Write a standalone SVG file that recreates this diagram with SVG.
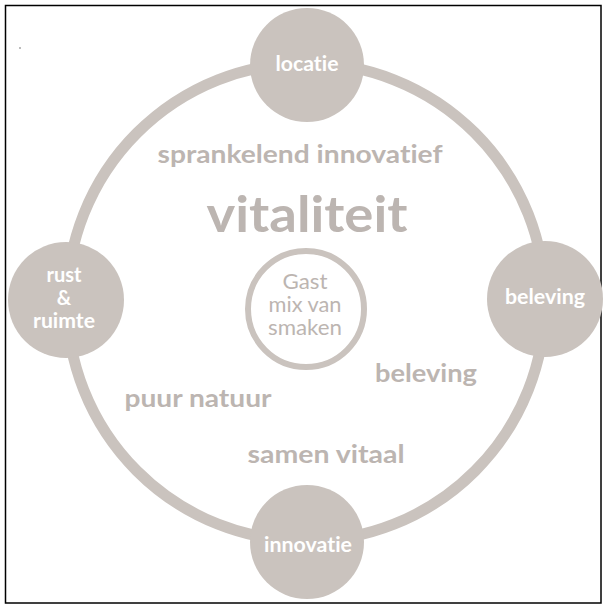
<svg xmlns="http://www.w3.org/2000/svg" width="604" height="607" viewBox="0 0 604 607">
<style>
text{font-variant-ligatures:none;font-feature-settings:"liga" 0,"dlig" 0}
.node{fill:#cac3be}
.nl{font-family:Lato,"Liberation Sans",sans-serif;font-weight:bold;fill:#ffffff;text-anchor:middle;font-size:20px}
.t{font-family:Lato,"Liberation Sans",sans-serif;font-weight:bold;fill:#bcb5b1;text-anchor:middle}
.g{font-family:Lato,"Liberation Sans",sans-serif;font-weight:normal;fill:#bcb5b1;text-anchor:middle;font-size:21px}
</style>
<rect x="0" y="0" width="604" height="607" fill="#ffffff"/>
<rect x="5.5" y="5.5" width="595.5" height="597.5" fill="none" stroke="#000000" stroke-width="1.5"/>
<circle cx="20" cy="48" r="0.8" fill="#666666"/>
<g id="connectors">
<circle cx="306" cy="302" r="239" fill="none" stroke="#cac3be" stroke-width="11"/>
</g>
<g id="node-gast">
<circle cx="306" cy="309" r="58" fill="none" stroke="#cac3be" stroke-width="6"/>
<text class="g" x="305" y="289" textLength="45" lengthAdjust="spacingAndGlyphs">Gast</text>
<text class="g" x="305" y="312" textLength="73" lengthAdjust="spacingAndGlyphs">mix van</text>
<text class="g" x="305" y="335" textLength="74" lengthAdjust="spacingAndGlyphs">smaken</text>
</g>
<g id="node-locatie">
<circle class="node" cx="307" cy="65" r="57"/>
<text class="nl" x="307" y="71" textLength="63" lengthAdjust="spacingAndGlyphs">locatie</text>
</g>
<g id="node-rust">
<circle class="node" cx="66" cy="300" r="58"/>
<text class="nl" x="64" y="282" textLength="35" lengthAdjust="spacingAndGlyphs">rust</text>
<text class="nl" x="64" y="305">&amp;</text>
<text class="nl" x="64" y="328" textLength="62" lengthAdjust="spacingAndGlyphs">ruimte</text>
</g>
<g id="node-beleving">
<circle class="node" cx="545" cy="299" r="58"/>
<text class="nl" x="545" y="304" textLength="80" lengthAdjust="spacingAndGlyphs">beleving</text>
</g>
<g id="node-innovatie">
<circle class="node" cx="307" cy="542" r="57"/>
<text class="nl" x="308" y="552" textLength="88" lengthAdjust="spacingAndGlyphs">innovatie</text>
</g>
<g id="labels">
<text class="t" x="300" y="163" font-size="25" textLength="285" lengthAdjust="spacingAndGlyphs">sprankelend innovatief</text>
<text class="t" x="307" y="232" font-size="50" textLength="201" lengthAdjust="spacingAndGlyphs">vitaliteit</text>
<text class="t" x="426" y="382" font-size="25" textLength="102" lengthAdjust="spacingAndGlyphs">beleving</text>
<text class="t" x="198" y="407" font-size="25" textLength="147" lengthAdjust="spacingAndGlyphs">puur natuur</text>
<text class="t" x="326" y="463" font-size="25" textLength="157" lengthAdjust="spacingAndGlyphs">samen vitaal</text>
</g>
</svg>
